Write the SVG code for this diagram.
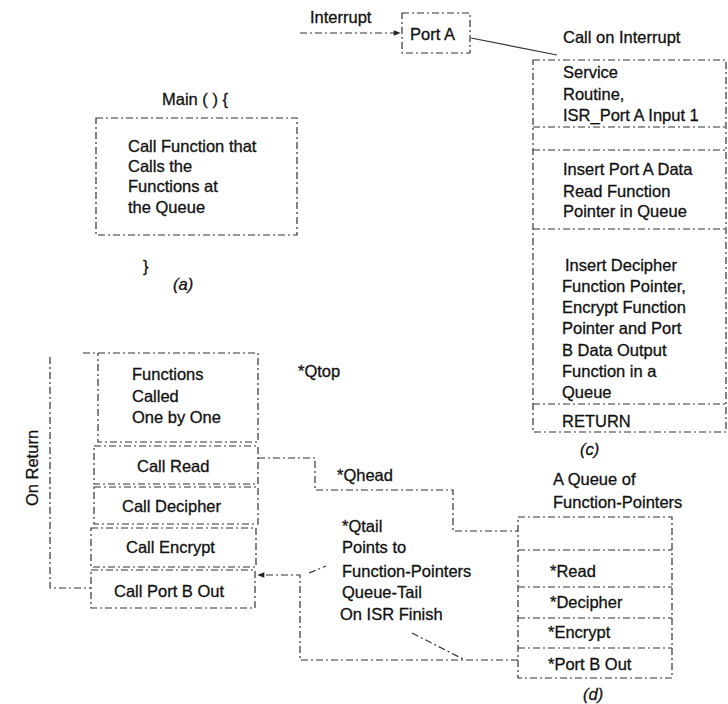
<svg xmlns="http://www.w3.org/2000/svg" width="728" height="704" viewBox="0 0 728 704">
<defs>
<marker id="arr" viewBox="0 0 10 10" refX="9" refY="5" markerWidth="9" markerHeight="7" orient="auto" markerUnits="userSpaceOnUse">
<path d="M0,1 L10,5 L0,9 z" fill="#222"/>
</marker>
<style>
text{font-family:"Liberation Sans",Arial,sans-serif;font-size:16.5px;fill:#111;stroke:#111;stroke-width:0.3}
.it{font-style:italic}
.box{fill:none;stroke:#333;stroke-width:1.2;stroke-dasharray:7 3 2 3}
.sep{fill:none;stroke:#333;stroke-width:1.2;stroke-dasharray:7 3 2 3}
.con{fill:none;stroke:#333;stroke-width:1.2;stroke-dasharray:7 3 2 3}
.sol{fill:none;stroke:#333;stroke-width:1.2}
</style>
</defs>
<rect width="728" height="704" fill="#fff"/>

<g id="connectors">
<path class="con" d="M300,33 H400" marker-end="url(#arr)"/>
<path class="sol" d="M471,38 L557,55"/>
<path class="con" d="M258,458 H315 V490 H453 V531 H518"/>
<path class="con" d="M518,660 H300 V575 H258" marker-end="url(#arr)"/>
<path class="con" d="M309,573 L326,566"/>
<path class="con" d="M412,633 L465,660"/>
<path class="con" d="M50,357 V588 H91"/>
</g>

<g id="interrupt-label"><text x="310" y="23">Interrupt</text></g>

<g id="port-a">
<rect class="box" x="402" y="13" width="68" height="40"/>
<text x="410" y="40">Port A</text>
</g>

<g id="main-a">
<text x="162" y="105">Main ( ) {</text>
<rect class="box" x="96" y="118" width="201" height="117"/>
<text x="128" y="152">Call Function that</text>
<text x="128" y="172">Calls the</text>
<text x="128" y="192">Functions at</text>
<text x="128" y="213">the Queue</text>
<text x="143" y="272">}</text>
<text x="173" y="290" class="it">(a)</text>
</g>

<g id="isr-c">
<text x="563" y="43">Call on Interrupt</text>
<rect class="box" x="533" y="60" width="193" height="372"/>
<path class="sep" d="M533,127 H726 M533,150 H726 M533,229 H726 M533,404 H726"/>
<text x="563" y="78">Service</text>
<text x="563" y="100">Routine,</text>
<text x="563" y="121">ISR_Port A Input 1</text>
<text x="563" y="175">Insert Port A Data</text>
<text x="563" y="197">Read Function</text>
<text x="563" y="217">Pointer in Queue</text>
<text x="565" y="271">Insert Decipher</text>
<text x="562" y="292">Function Pointer,</text>
<text x="562" y="313">Encrypt Function</text>
<text x="562" y="334">Pointer and Port</text>
<text x="562" y="356">B Data Output</text>
<text x="562" y="377">Function in a</text>
<text x="562" y="398">Queue</text>
<text x="562" y="427">RETURN</text>
<text x="580" y="455" class="it">(c)</text>
</g>

<g id="on-return"><text transform="translate(38,468) rotate(-90)" text-anchor="middle">On Return</text></g>

<g id="functions-called">
<path class="box" d="M83,353 H258 V442 H98 V353"/>
<text x="132" y="380">Functions</text>
<text x="132" y="402">Called</text>
<text x="132" y="423">One by One</text>
</g>
<g id="call-read">
<rect class="box" x="94" y="446" width="164" height="38"/>
<text x="137" y="472">Call Read</text>
</g>
<g id="call-decipher">
<rect class="box" x="94" y="487" width="164" height="37"/>
<text x="122" y="512">Call Decipher</text>
</g>
<g id="call-encrypt">
<rect class="box" x="91" y="528" width="165" height="39"/>
<text x="126" y="553">Call Encrypt</text>
</g>
<g id="call-port-b-out">
<rect class="box" x="91" y="570" width="164" height="38"/>
<text x="114" y="597">Call Port B Out</text>
</g>

<g id="qtop"><text x="298" y="377">*Qtop</text></g>
<g id="qhead"><text x="337" y="481">*Qhead</text></g>
<g id="qtail">
<text x="342" y="532">*Qtail</text>
<text x="342" y="553">Points to</text>
<text x="342" y="577">Function-Pointers</text>
<text x="342" y="598">Queue-Tail</text>
<text x="340" y="620">On ISR Finish</text>
</g>

<g id="queue-d">
<text x="553" y="485">A Queue of</text>
<text x="553" y="508">Function-Pointers</text>
<rect class="box" x="518" y="517" width="154" height="161"/>
<path class="sep" d="M518,550 H672 M518,587 H672 M518,618 H672 M518,648 H672"/>
<text x="550" y="577">*Read</text>
<text x="550" y="608">*Decipher</text>
<text x="548" y="638">*Encrypt</text>
<text x="548" y="670">*Port B Out</text>
<text x="583" y="700" class="it">(d)</text>
</g>
</svg>
